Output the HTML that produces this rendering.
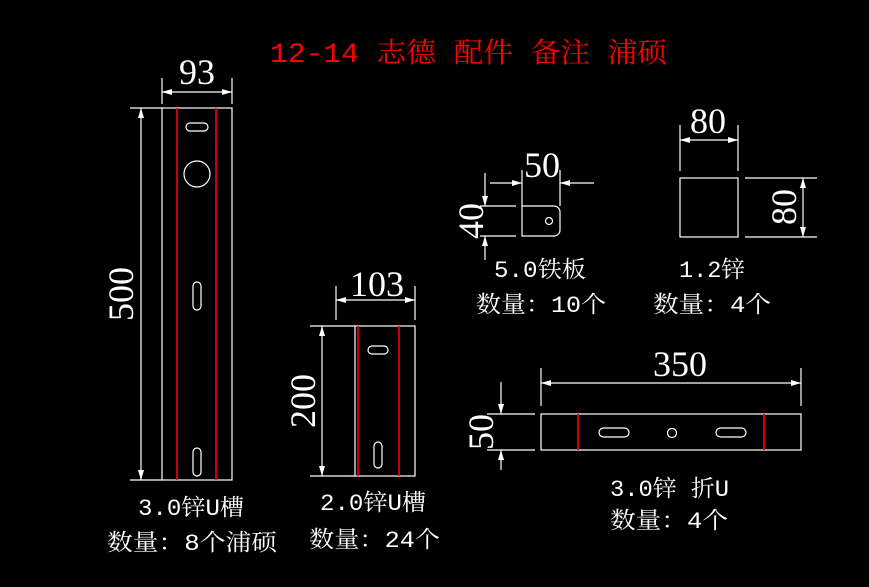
<!DOCTYPE html>
<html><head><meta charset="utf-8"><style>
html,body{margin:0;padding:0;background:#000;}
svg{display:block}
text{font-family:"Liberation Mono","Noto Serif CJK SC",monospace;fill:#fff}
.d{font-family:"Liberation Serif",serif}
</style></head><body>
<svg width="869" height="587" viewBox="0 0 869 587" xmlns="http://www.w3.org/2000/svg">
<defs>
<marker id="a" viewBox="0 0 10 6" refX="10" refY="3" markerWidth="10" markerHeight="6" orient="auto-start-reverse" markerUnits="userSpaceOnUse"><path d="M0,0L10,3L0,6z" fill="#fff"/></marker>
</defs>
<text x="270" y="62" font-size="28" textLength="397" lengthAdjust="spacingAndGlyphs" style="fill:#f00">12-14 志德 配件 备注 浦硕</text>
<g stroke="#fff" stroke-width="1.2" fill="none">
<rect x="162" y="108" width="70" height="372"/>
<line x1="130" y1="108" x2="162" y2="108"/><line x1="130" y1="480" x2="162" y2="480"/>
<line x1="141" y1="108" x2="141" y2="480" marker-start="url(#a)" marker-end="url(#a)"/>
<line x1="162" y1="78" x2="162" y2="104"/><line x1="232" y1="78" x2="232" y2="104"/>
<line x1="162" y1="92" x2="232" y2="92" marker-start="url(#a)" marker-end="url(#a)"/>
<rect x="186" y="123" width="22" height="8" rx="4"/>
<circle cx="197" cy="174" r="13"/>
<rect x="193" y="282" width="8" height="28" rx="4"/>
<rect x="193" y="448" width="8" height="28" rx="4"/>
<rect x="355" y="326" width="60" height="150"/>
<line x1="310" y1="326" x2="355" y2="326"/><line x1="310" y1="476" x2="355" y2="476"/>
<line x1="322" y1="326" x2="322" y2="476" marker-start="url(#a)" marker-end="url(#a)"/>
<line x1="336" y1="286" x2="336" y2="320"/><line x1="415" y1="286" x2="415" y2="320"/>
<line x1="336" y1="300" x2="415" y2="300" marker-start="url(#a)" marker-end="url(#a)"/>
<rect x="368" y="346" width="20" height="8" rx="4"/>
<rect x="374" y="442" width="8" height="26" rx="4"/>
<path d="M522,206H554A6,6 0 0 1 560,212V230A6,6 0 0 1 554,236H522Z"/>
<circle cx="549" cy="221" r="3.5"/>
<line x1="522" y1="170" x2="522" y2="206"/><line x1="560" y1="170" x2="560" y2="206"/>
<line x1="490" y1="183" x2="522" y2="183" marker-end="url(#a)"/><line x1="594" y1="183" x2="560" y2="183" marker-end="url(#a)"/>
<line x1="480" y1="206" x2="516" y2="206"/><line x1="480" y1="236" x2="516" y2="236"/>
<line x1="485" y1="173" x2="485" y2="206" marker-end="url(#a)"/><line x1="485" y1="260" x2="485" y2="236" marker-end="url(#a)"/>
<rect x="680" y="178" width="58" height="59"/>
<line x1="680" y1="125" x2="680" y2="171"/><line x1="738" y1="125" x2="738" y2="171"/>
<line x1="680" y1="140" x2="738" y2="140" marker-start="url(#a)" marker-end="url(#a)"/>
<line x1="745" y1="178" x2="817" y2="178"/><line x1="745" y1="237" x2="817" y2="237"/>
<line x1="803" y1="178" x2="803" y2="237" marker-start="url(#a)" marker-end="url(#a)"/>
<rect x="541" y="414" width="260" height="36"/>
<line x1="541" y1="368" x2="541" y2="406"/><line x1="801" y1="368" x2="801" y2="406"/>
<line x1="541" y1="383" x2="801" y2="383" marker-start="url(#a)" marker-end="url(#a)"/>
<line x1="487" y1="414" x2="535" y2="414"/><line x1="487" y1="450" x2="535" y2="450"/>
<line x1="501" y1="382" x2="501" y2="414" marker-end="url(#a)"/><line x1="501" y1="470" x2="501" y2="450" marker-end="url(#a)"/>
<rect x="599" y="428" width="30" height="9" rx="4.5"/>
<rect x="716" y="428" width="30" height="9" rx="4.5"/>
<circle cx="672" cy="433" r="4.5"/>
</g>
<g stroke="#f00" stroke-width="1.6">
<line x1="177" y1="108" x2="177" y2="480"/><line x1="216" y1="108" x2="216" y2="480"/>
<line x1="358" y1="326" x2="358" y2="476"/><line x1="399" y1="326" x2="399" y2="476"/>
<line x1="578" y1="414" x2="578" y2="450"/><line x1="764" y1="414" x2="764" y2="450"/>
</g>
<g font-size="36" text-anchor="middle">
<text class="d" x="197" y="84">93</text>
<text class="d" x="377" y="296">103</text>
<text class="d" x="542" y="177">50</text>
<text class="d" x="708" y="133">80</text>
<text class="d" x="680" y="376">350</text>
<text class="d" transform="translate(133,294) rotate(-90)">500</text>
<text class="d" transform="translate(315,401) rotate(-90)">200</text>
<text class="d" transform="translate(483,221) rotate(-90)">40</text>
<text class="d" transform="translate(796,207) rotate(-90)">80</text>
<text class="d" transform="translate(493,432) rotate(-90)">50</text>
</g>
<g font-size="23">
<text x="138" y="515" textLength="106" lengthAdjust="spacingAndGlyphs">3.0锌U槽</text>
<text x="107" y="550" textLength="170" lengthAdjust="spacingAndGlyphs">数量：8个浦硕</text>
<text x="320" y="510" textLength="106" lengthAdjust="spacingAndGlyphs">2.0锌U槽</text>
<text x="309" y="547" textLength="131" lengthAdjust="spacingAndGlyphs">数量：24个</text>
<text x="494" y="277" textLength="92" lengthAdjust="spacingAndGlyphs">5.0铁板</text>
<text x="476" y="312" textLength="130" lengthAdjust="spacingAndGlyphs">数量：10个</text>
<text x="679" y="277" textLength="66" lengthAdjust="spacingAndGlyphs">1.2锌</text>
<text x="653" y="312" textLength="118" lengthAdjust="spacingAndGlyphs">数量：4个</text>
<text x="610" y="496" textLength="119" lengthAdjust="spacingAndGlyphs">3.0锌 折U</text>
<text x="610" y="528" textLength="118" lengthAdjust="spacingAndGlyphs">数量：4个</text>
</g>
</svg>
</body></html>
